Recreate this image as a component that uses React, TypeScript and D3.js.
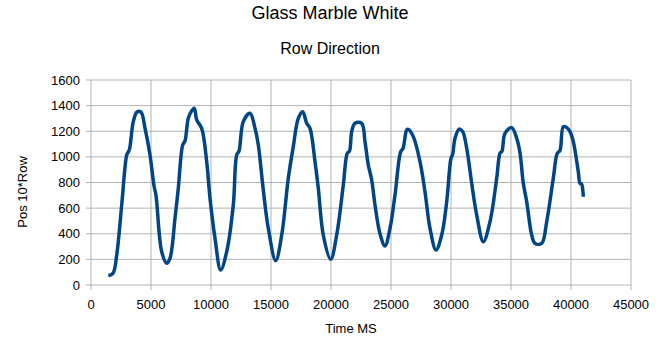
import React from 'react';
import * as d3 from 'd3';

// readings taken off the original chart
const timeMs = [
  1442, 1833, 2142, 2558, 2975, 3083, 3208, 3525, 3833, 4167, 4500, 4917, 5250, 5417, 5892, 6308,
  6583, 7000, 7275, 7642, 7833, 8108, 8392, 8608, 8808, 9225, 9642, 9917, 10333, 10808,
  11308, 11858, 12142, 12333, 12692, 13250, 13667, 13942, 14358, 14775, 15392,
  15892, 16442, 16858, 17275, 17642, 17975, 18250, 18667, 18942, 19358, 19975,
  20475, 21025, 21358, 21542, 21725, 22000, 22558, 22833, 23108, 23392, 23667, 24083, 24500,
  24917, 25333, 25808, 26000, 26308, 26442, 26858, 27417, 27833, 28250, 28750,
  29225, 29642, 30000, 30142, 30333, 30692, 30975, 31308, 31725, 32142, 32692,
  33250, 33808, 34083, 34250, 34500, 35058, 35475, 35750, 36025, 36308, 36725, 37000, 37558,
  37975, 38525, 38858, 39083, 39358, 39642, 39917, 40192, 40608, 40750, 40875, 41025,
];
const pos = [
  73, 91, 234, 624, 1015, 1035, 1060, 1275, 1350, 1350, 1225, 1015, 775, 700, 260, 170,
  208, 520, 755, 1093, 1125, 1301, 1360, 1379, 1288, 1223, 962, 677, 365, 117,
  260, 624, 1015, 1045, 1275, 1340, 1223, 1093, 741, 442, 190,
  390, 833, 1080, 1301, 1353, 1262, 1223, 962, 755, 390, 200,
  390, 780, 1028, 1045, 1197, 1262, 1262, 1119, 937, 820, 624, 400, 305,
  442, 702, 1040, 1065, 1210, 1215, 1158, 962, 728, 442, 273,
  390, 650, 989, 1020, 1145, 1218, 1197, 1067, 794, 546, 338,
  494, 833, 1028, 1045, 1184, 1228, 1145, 1030, 794, 650, 390, 325, 325,
  494, 833, 1028, 1050, 1236, 1228, 1197, 1119, 884, 794, 790, 689,
];
const xTicks = [0, 5000, 10000, 15000, 20000, 25000, 30000, 35000, 40000, 45000];
const yTicks = [0, 200, 400, 600, 800, 1000, 1200, 1400, 1600];

const W = 661;
const H = 361;
const font = '"Liberation Sans", Arial, sans-serif';

export default function App() {
  const x = d3.scaleLinear().domain([0, 45000]).range([91, 631]);
  const y = d3.scaleLinear().domain([0, 1600]).range([285, 80]);

  const points = timeMs.map((t, i) => [t, pos[i]] as [number, number]);
  const line = d3
    .line<[number, number]>()
    .x((d) => x(d[0]))
    .y((d) => y(d[1]))
    .curve(d3.curveCatmullRom.alpha(0.5));

  return (
    <svg
      width={W}
      height={H}
      style={{ position: 'absolute', left: 0, top: 0, background: '#fff' }}
      fontFamily={font}
    >
      <rect width={W} height={H} fill="#fff" />
      <text x={330} y={19} textAnchor="middle" fontSize={18}>
        Glass Marble White
      </text>
      <text x={330} y={54} textAnchor="middle" fontSize={16}>
        Row Direction
      </text>

      {/* grid */}
      {yTicks.map((v) => (
        <line key={'gy' + v} x1={x(0)} x2={x(45000)} y1={y(v)} y2={y(v)} stroke="#b3b3b3" />
      ))}
      {xTicks.map((v) => (
        <line key={'gx' + v} x1={x(v)} x2={x(v)} y1={y(0)} y2={y(1600)} stroke="#b3b3b3" />
      ))}

      {/* ticks */}
      {yTicks.map((v) => (
        <line key={'ty' + v} x1={x(0) - 5} x2={x(0)} y1={y(v)} y2={y(v)} stroke="#b3b3b3" />
      ))}
      {xTicks.map((v) => (
        <line key={'tx' + v} x1={x(v)} x2={x(v)} y1={y(0)} y2={y(0) + 5} stroke="#b3b3b3" />
      ))}

      {yTicks.map((v) => (
        <text key={'ly' + v} x={80} y={y(v) + 4.5} textAnchor="end" fontSize={13}>
          {v}
        </text>
      ))}
      {xTicks.map((v) => (
        <text key={'lx' + v} x={x(v)} y={309} textAnchor="middle" fontSize={13}>
          {v}
        </text>
      ))}

      <text x={351} y={333} textAnchor="middle" fontSize={13}>
        Time MS
      </text>
      <text
        transform="translate(27,192) rotate(-90)"
        textAnchor="middle"
        fontSize={13}
      >
        Pos 10*Row
      </text>

      <path
        d={line(points) || ''}
        fill="none"
        stroke="#004586"
        strokeWidth={3.5}
        strokeLinejoin="round"
        strokeLinecap="butt"
      />
    </svg>
  );
}
